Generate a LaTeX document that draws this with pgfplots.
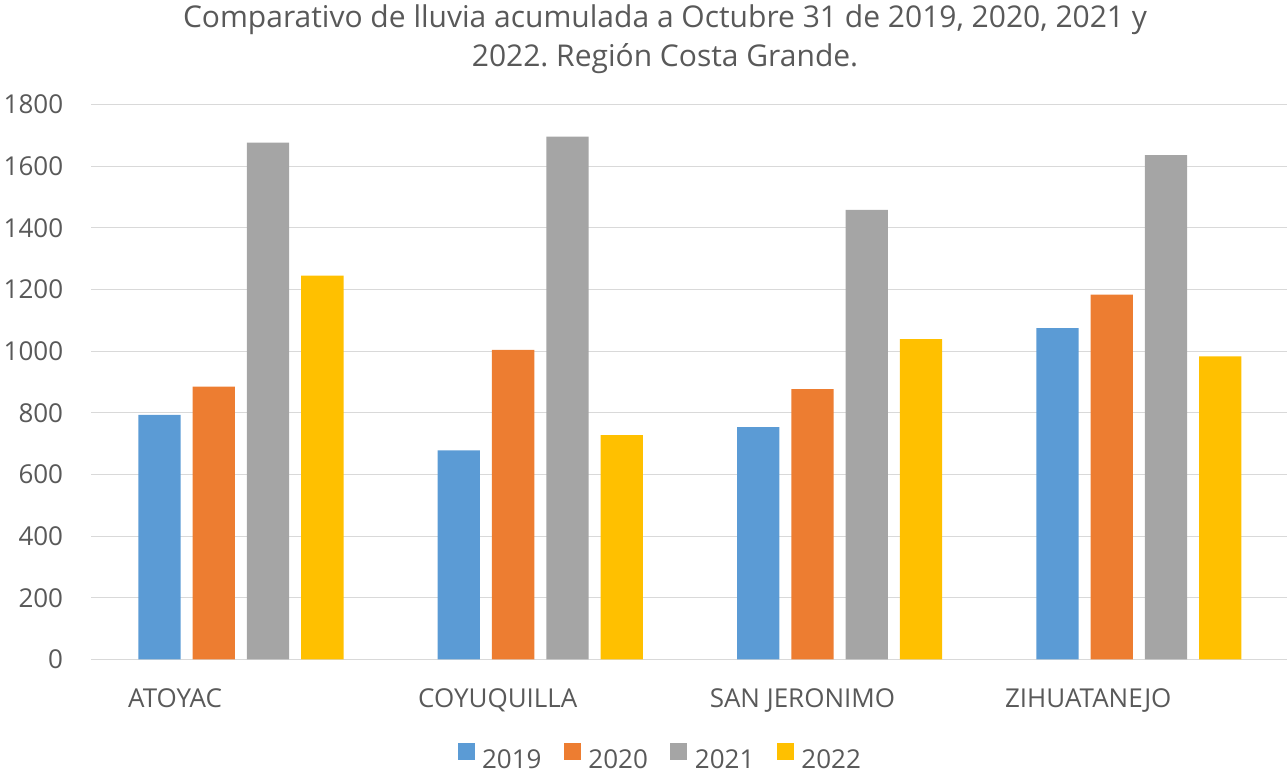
\documentclass[border=0pt]{standalone}
\usepackage{pgfplots}
\pgfplotsset{compat=1.18}
\usepackage{pgfplotstable}
\usepackage{fontspec}
\setmainfont{Open Sans}
\frenchspacing
\definecolor{c19}{HTML}{5B9BD5}
\definecolor{c20}{HTML}{ED7D31}
\definecolor{c21}{HTML}{A5A5A5}
\definecolor{c22}{HTML}{FFC000}
\definecolor{txt}{HTML}{595959}
\definecolor{grd}{HTML}{D9D9D9}

\pgfplotstableread{
x y19 y20 y21 y22
0 793 885 1676 1245
1 678 1004 1696 728
2 754 877 1458 1039
3 1075 1183 1636 983
}\datatable

\begin{document}
\begin{tikzpicture}[x=1pt,y=1pt]
\useasboundingbox (0,0) rectangle (1287,773);
\begin{axis}[
 at={(91.3pt,113.5pt)}, anchor=south west,
 scale only axis, width=1195.7pt, height=555pt,
 xmin=-0.5, xmax=3.495, ymin=0, ymax=1800,
 ytick={0,200,...,1800},
 xtick={-0.22,0.858,1.876,2.831},
 xticklabels={ATOYAC,COYUQUILLA,SAN JERONIMO,ZIHUATANEJO},
 ymajorgrids, grid style={grd, line width=1.3pt},
 axis x line*=bottom, axis y line*=left,
 x axis line style={grd, line width=1.3pt, -},
 y axis line style={draw=none},
 major tick length=0pt,
 tick label style={font=\fontsize{26}{30}\selectfont, text=txt},
 yticklabel style={anchor=east, inner sep=0pt, xshift=-28pt},
 xticklabel style={anchor=base, inner sep=0pt, yshift=-47.8pt},
 /pgf/number format/assume math mode=true,
 /pgf/number format/1000 sep={},
 legend image code/.code={\fill[#1] (0pt,-0.5pt) rectangle (17pt,16.5pt);},
 legend style={at={(0.3061,-0.175)}, anchor=west, draw=none, fill=none, inner sep=0pt,
   nodes={inner sep=0pt, font=\fontsize{26}{30}\selectfont, text=txt},
   /tikz/every odd column/.append style={column sep=7.5pt},
   /tikz/every even column/.append style={column sep=22.5pt}},
 legend columns=4,
]
\addplot[ybar, bar width=0.1413, bar shift=-0.272, fill=c19, draw=none] table[x=x,y=y19] {\datatable};
\addplot[ybar, bar width=0.1413, bar shift=-0.0907, fill=c20, draw=none] table[x=x,y=y20] {\datatable};
\addplot[ybar, bar width=0.1413, bar shift=0.0907, fill=c21, draw=none] table[x=x,y=y21] {\datatable};
\addplot[ybar, bar width=0.1413, bar shift=0.272, fill=c22, draw=none] table[x=x,y=y22] {\datatable};
\legend{2019,2020,2021,2022}
\end{axis}
\node[anchor=base, font=\fontsize{30}{36}\selectfont, text=txt, inner sep=0pt] at (665,745) {Comparativo de lluvia acumulada a Octubre 31 de 2019, 2020, 2021 y};
\node[anchor=base, font=\fontsize{30}{36}\selectfont, text=txt, inner sep=0pt] at (665,706) {2022. Región Costa Grande.};
\end{tikzpicture}
\end{document}
